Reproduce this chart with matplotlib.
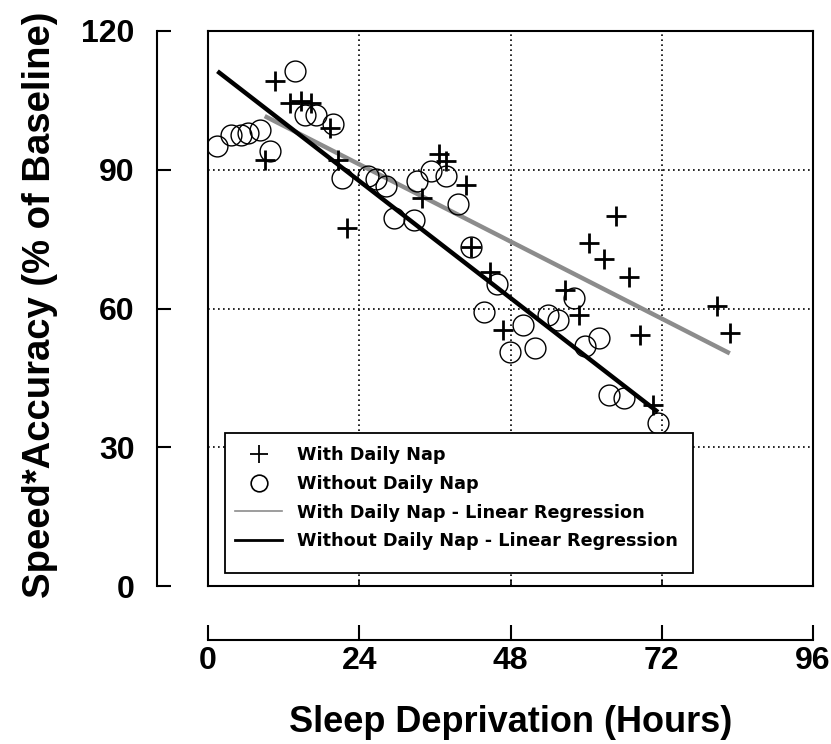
import matplotlib
matplotlib.use('Agg')
import matplotlib.pyplot as plt
from matplotlib.lines import Line2D
from matplotlib.patches import Rectangle

# sleep deprivation (hours) vs speed*accuracy (% of baseline)
nap_hours = [9.0, 10.6, 13.0, 14.8, 16.4, 19.4, 20.7, 22.0, 34.0, 36.7, 37.8,
             41.0, 41.8, 44.7, 46.8, 56.7, 58.8, 60.4, 62.8, 64.7, 66.8, 68.5,
             70.6, 80.7, 82.8]
nap_score = [92.2, 109.2, 104.5, 104.8, 104.5, 99.1, 92.2, 77.4, 83.9, 93.3, 91.8,
             86.8, 73.4, 68.0, 55.4, 64.1, 58.7, 74.2, 70.6, 79.9, 66.9, 54.3,
             39.2, 60.5, 54.7]

nonap_hours = [1.5, 3.6, 5.2, 6.3, 8.2, 9.8, 13.8, 15.4, 17.2, 19.9, 21.2, 25.4,
               26.6, 28.2, 29.5, 32.7, 33.2, 35.4, 37.8, 39.6, 41.8, 43.8, 45.8,
               47.9, 50.0, 51.9, 54.0, 55.6, 58.0, 59.8, 62.0, 63.6, 66.0, 71.4]
nonap_score = [95.1, 97.6, 97.6, 98.0, 98.7, 94.0, 111.3, 101.9, 101.9, 99.8, 88.3,
               88.6, 87.9, 86.4, 79.6, 79.2, 87.5, 89.7, 88.6, 82.5, 73.4, 59.3,
               65.4, 50.7, 56.5, 51.5, 58.7, 57.6, 62.3, 51.8, 53.6, 41.3, 40.6, 35.2]

# regression lines (end points)
nap_fit_hours = [9.0, 82.8]
nap_fit_score = [101.6, 50.3]
nonap_fit_hours = [1.5, 71.4]
nonap_fit_score = [111.3, 37.6]

x_ticks = [0, 24, 48, 72, 96]
y_ticks = [0, 30, 60, 90, 120]

FONT = 'Liberation Sans'
GRAY = '#8c8c8c'

W, H = 831, 744
AX_L, AX_T, AX_W, AX_H = 208, 31, 605, 555
fig = plt.figure(figsize=(W / 100, H / 100), dpi=100)
ax = fig.add_axes([AX_L / W, 1 - (AX_T + AX_H) / H, AX_W / W, AX_H / H])

def ax_xy(px, py):
    # pixel position -> axes fraction
    return (px - AX_L) / AX_W, (AX_T + AX_H - py) / AX_H

ax.plot(nonap_hours, nonap_score, 'o', ms=15, mfc='none', mec='black', mew=1.0, zorder=3)
ax.plot(nap_hours, nap_score, '+', ms=14, mec='black', mew=2.0, zorder=4)
ax.plot(nap_fit_hours, nap_fit_score, color=GRAY, lw=3.2, solid_capstyle='butt', zorder=2)
ax.plot(nonap_fit_hours, nonap_fit_score, color='black', lw=3.2, solid_capstyle='butt', zorder=2)

ax.set_xlim(0, 96)
ax.set_ylim(0, 120)
ax.set_xticks(x_ticks)
ax.set_yticks(y_ticks)

# dotted grid only on the inner lines
for v in x_ticks[1:-1]:
    ax.axvline(v, color='black', lw=1.2, dashes=(1, 2), zorder=1)
for v in y_ticks[1:-1]:
    ax.axhline(v, color='black', lw=1.2, dashes=(1, 2), zorder=1)

# detached axes on the left and bottom
ax.spines['left'].set_position(('outward', 51 * 0.72))
ax.spines['bottom'].set_position(('outward', 54 * 0.72))
for s in ['left', 'bottom', 'top', 'right']:
    ax.spines[s].set_linewidth(1.5)
ax.tick_params(axis='y', direction='in', length=10, width=1.5, pad=16)
ax.tick_params(axis='x', direction='in', length=10.5, width=1.5, pad=4)

for lab in ax.get_yticklabels():
    lab.set_family(FONT)
    lab.set_fontweight('bold')
    lab.set_fontsize(23)
for lab in ax.get_xticklabels():
    lab.set_family(FONT)
    lab.set_fontweight('bold')
    lab.set_fontsize(23)

# frame around the data area
sx = ax.secondary_xaxis(0)
sx.set_xticks([24, 48, 72])
sx.tick_params(direction='in', length=4, width=1.2, labelbottom=False)
sx.spines['bottom'].set_linewidth(1.5)
sy = ax.secondary_yaxis(0)
sy.set_yticks([])
sy.spines['left'].set_linewidth(1.5)

ax.set_xlabel('Sleep Deprivation (Hours)', family=FONT, fontweight='bold', fontsize=26, labelpad=21)
fig.text(40 / W, 1 - 305 / H, 'Speed*Accuracy (% of Baseline)', rotation=90,
         ha='center', va='center', family=FONT, fontweight='bold', fontsize=27.5)

# legend box
x0, y0 = ax_xy(225, 573)
x1, y1 = ax_xy(693, 433)
ax.add_patch(Rectangle((x0, y0), x1 - x0, y1 - y0, transform=ax.transAxes,
                       facecolor='white', edgecolor='black', lw=1.3, zorder=5))

handles = [
    Line2D([], [], ls='none', marker='+', ms=13, mec='black', mew=1.3),
    Line2D([], [], ls='none', marker='o', ms=12, mfc='none', mec='black', mew=1.2),
    Line2D([], [], color=GRAY, lw=1.2),
    Line2D([], [], color='black', lw=2),
]
labels = ['With Daily Nap', 'Without Daily Nap',
          'With Daily Nap - Linear Regression',
          'Without Daily Nap - Linear Regression']
leg = ax.legend(handles, labels, loc='upper left', bbox_to_anchor=ax_xy(235, 446),
                borderaxespad=0, frameon=False, borderpad=0,
                prop={'family': 'DejaVu Sans', 'weight': 'bold', 'size': 12.7},
                handlelength=2.67, handletextpad=0.85, labelspacing=0.61)
leg.set_zorder(6)

fig.savefig('out.png', dpi=100)
